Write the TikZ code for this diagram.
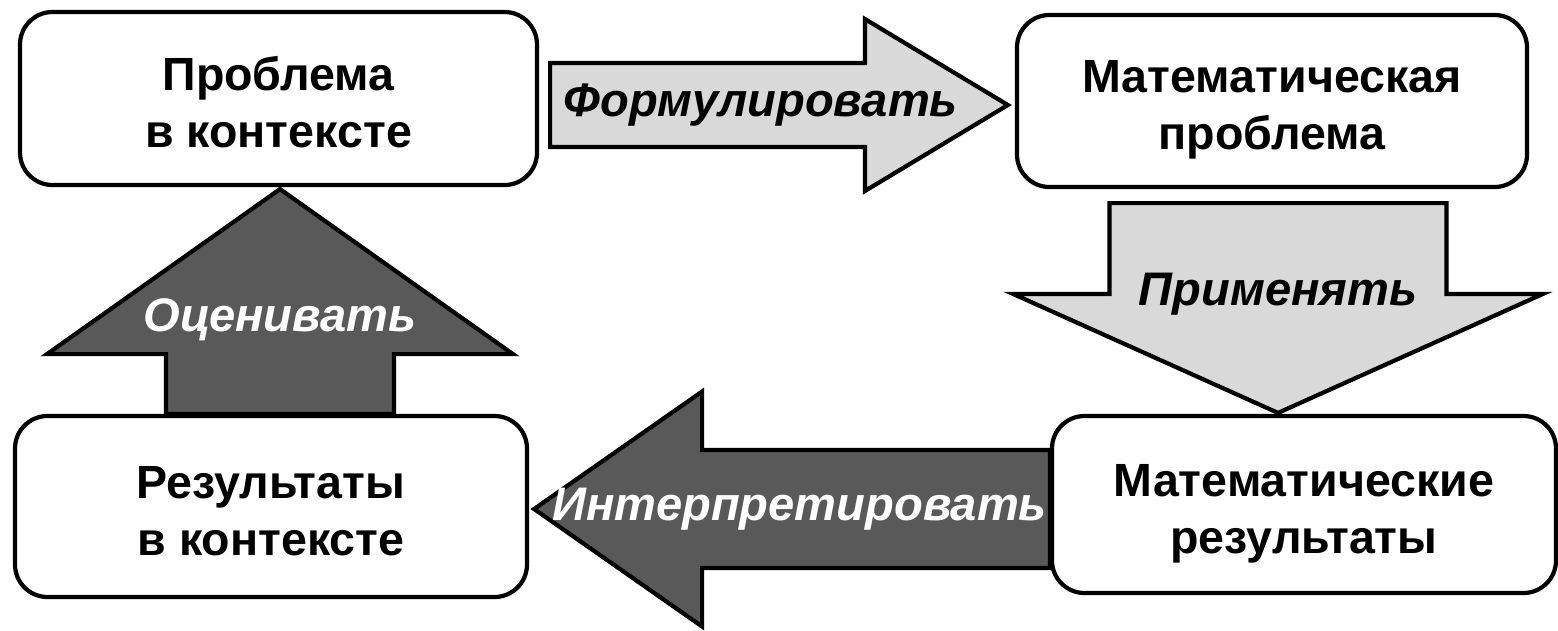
\documentclass[tikz,border=0pt]{standalone}
\usepackage{fontspec}
\setmainfont{Liberation Sans}
\usetikzlibrary{calc, positioning}
\definecolor{lightgr}{HTML}{D9D9D9}
\definecolor{darkgr}{HTML}{595959}
\pgfdeclarelayer{background}
\pgfsetlayers{background,main}
% two lines of box text, set a little low in the box
\newcommand{\boxtext}[1]{\raisebox{-0.18cm}[\height][\depth]{\begin{tabular}{@{}c@{}}#1\end{tabular}}}
% block arrow: style, tail, tip, shaft half width, head half width, head length
\newcommand{\blockarrow}[6]{%
	\coordinate (hb) at ($(#3)!#6!(#2)$);
	\draw[#1] ($(#2)!#4!90:(#3)$) -- ($(hb)!#4!90:(#3)$) -- ($(hb)!#5!90:(#3)$) -- (#3)
		-- ($(hb)!#5!-90:(#3)$) -- ($(hb)!#4!-90:(#3)$) -- ($(#2)!#4!-90:(#3)$) -- cycle;}

\begin{document}
\begin{tikzpicture}[
	box/.style={draw, fill=white, line width=2.4pt, rounded corners=0.65cm, inner sep=0pt, font=\fontsize{26.5}{32.5}\selectfont\bfseries},
	lightarr/.style={draw, line width=2.4pt, fill=lightgr},
	darkarr/.style={draw, line width=2.4pt, fill=darkgr},
	lbl/.style={font=\fontsize{26.8}{30}\selectfont\bfseries\itshape}]
	\useasboundingbox (0,0) rectangle (31.16,-12.6);
	
	\node[box, minimum width=10.34cm, minimum height=3.46cm] (prob) at (5.57,-1.97) {\boxtext{Проблема\\в контексте}};
	\node[box, minimum width=10.20cm, minimum height=3.44cm] (mprob) at (25.44,-2.02) {\boxtext{Математическая\\проблема}};
	\node[box, minimum width=10.08cm, minimum height=3.54cm] (mres) at (26.08,-10.09) {\boxtext{Математические\\результаты}};
	\node[box, minimum width=10.24cm, minimum height=3.62cm] (res) at (5.42,-10.13) {\boxtext{Результаты\\в контексте}};
	
	\coordinate (f1) at ($(prob.east)+(0.22,-0.13)$);
	\coordinate (f2) at ($(mprob.west)+(-0.14,-0.08)$);
	\coordinate (a1) at ($(mprob.south)+(0.12,-0.28)$);
	\coordinate (a2) at ($(mres.north)+(-0.52,0.02)$);
	\coordinate (i1) at ($(mres.west)+(0,-0.09)$);
	\coordinate (i2) at ($(res.east)+(0.10,-0.05)$);
	\coordinate (e1) at ($(res.north)+(0.18,0)$);
	\coordinate (e2) at ($(prob.south)+(0.03,-0.04)$);
	
	\begin{pgfonlayer}{background}
		\blockarrow{lightarr}{f1}{f2}{0.84cm}{1.72cm}{2.86cm}
		\blockarrow{lightarr}{a1}{a2}{3.37cm}{5.30cm}{2.38cm}
		\blockarrow{darkarr}{i1}{i2}{1.18cm}{2.35cm}{3.36cm}
		\blockarrow{darkarr}{e1}{e2}{2.28cm}{4.66cm}{3.30cm}
		\node[lbl] (flbl) at ($(f1)!0.46!(f2)$) {Формулировать};
		\node[lbl] (albl) at ($(a1)!0.435!(a2)$) {Применять};
		\node[lbl, white] (ilbl) at ($(i1)!0.485!(i2)$) {Интерпретировать};
		\node[lbl, white] (elbl) at ($(e1)!0.42!(e2)$) {Оценивать};
	\end{pgfonlayer}
\end{tikzpicture}
\end{document}
